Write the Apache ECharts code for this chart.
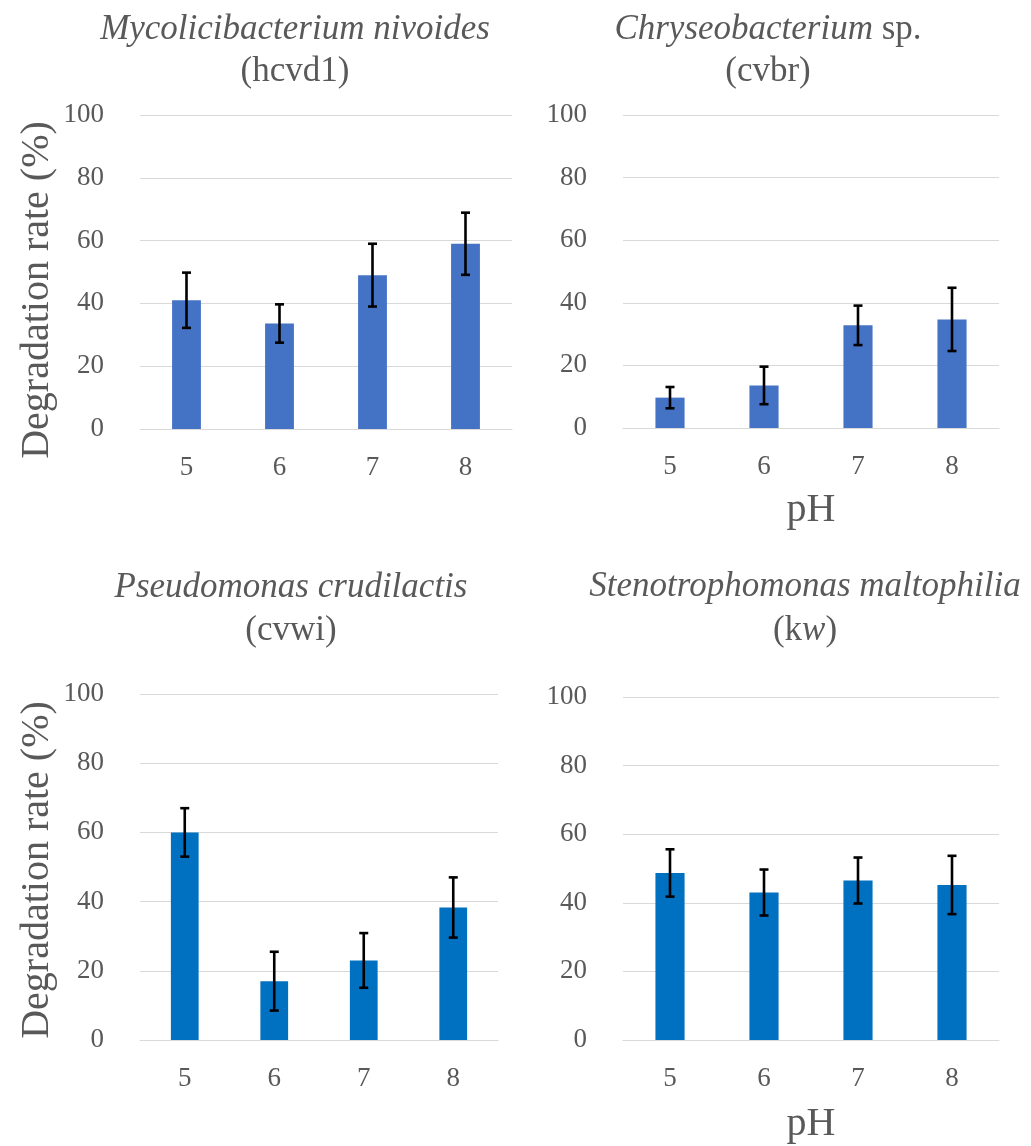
<!DOCTYPE html>
<html><head><meta charset="utf-8">
<script src="https://cdn.jsdelivr.net/npm/echarts@6/dist/echarts.min.js"></script>
<style>html,body{margin:0;padding:0;background:#fff}#c{width:1031px;height:1146px}</style>
</head><body><div id="c"></div>
<script>
const phCategories = ['5', '6', '7', '8'];
const yTicks = [0, 20, 40, 60, 80, 100];
const hcvd1Values = [41, 33.6, 49, 59];
const hcvd1Errors = [8.8, 6.1, 10, 9.9];
const cvbrValues = [9.7, 13.6, 32.8, 34.7];
const cvbrErrors = [3.4, 6, 6.3, 10.1];
const cvwiValues = [60, 17, 23, 38.3];
const cvwiErrors = [7, 8.5, 7.9, 8.7];
const kwValues = [48.7, 43, 46.5, 45.2];
const kwErrors = [6.9, 6.7, 6.7, 8.5];
const yAxisTitle = 'Degradation rate (%)';
const xAxisTitle = 'pH';

const FONT = '"Liberation Serif", "Times New Roman", serif';
const TXT = '#595959';
const GRIDC = '#d9d9d9';

const panels = [
  {vals: hcvd1Values, errs: hcvd1Errors, color: '#4472C4', grid: {left: 140, top: 115, width: 372, height: 314}, xname: ''},
  {vals: cvbrValues, errs: cvbrErrors, color: '#4472C4', grid: {left: 623, top: 115, width: 376, height: 313}, xname: xAxisTitle, gap: 62},
  {vals: cvwiValues, errs: cvwiErrors, color: '#0070C0', grid: {left: 140, top: 694, width: 358, height: 346}, xname: ''},
  {vals: kwValues, errs: kwErrors, color: '#0070C0', grid: {left: 623, top: 697, width: 376, height: 343}, xname: xAxisTitle, gap: 64}
];

function errRender(params, api) {
  const x = api.value(0);
  const lo = api.coord([x, api.value(1)]);
  const hi = api.coord([x, api.value(2)]);
  const cap = 4.5;
  const style = {stroke: '#000', lineWidth: 2.6};
  return {type: 'group', children: [
    {type: 'line', shape: {x1: hi[0], y1: hi[1], x2: lo[0], y2: lo[1]}, style: style},
    {type: 'line', shape: {x1: hi[0] - cap, y1: hi[1], x2: hi[0] + cap, y2: hi[1]}, style: style},
    {type: 'line', shape: {x1: lo[0] - cap, y1: lo[1], x2: lo[0] + cap, y2: lo[1]}, style: style}
  ]};
}

const richStyles = {
  i: {fontFamily: FONT, fontStyle: 'italic', fontWeight: 'normal', fontSize: 35, color: TXT, lineHeight: 40},
  n: {fontFamily: FONT, fontWeight: 'normal', fontSize: 35, color: TXT, lineHeight: 40}
};

const titles = [
  {text: '{i|Mycolicibacterium nivoides}', subtext: '{n|(hcvd1)}', left: 295, top: 10, itemGap: 7},
  {text: '{i|Chryseobacterium} {n|sp.}', subtext: '{n|(cvbr)}', left: 768, top: 10, itemGap: 7},
  {text: '{i|Pseudomonas crudilactis}', subtext: '{n|(cvwi)}', left: 291, top: 568, itemGap: 8},
  {text: '{i|Stenotrophomonas maltophilia}', subtext: '{n|(k}{i|w}{n|)}', left: 805, top: 567, itemGap: 9}
].map(t => Object.assign(t, {
  textAlign: 'center', padding: 0,
  textStyle: {rich: richStyles, fontFamily: FONT, fontSize: 35, fontWeight: 'normal', color: TXT},
  subtextStyle: {rich: richStyles, fontFamily: FONT, fontSize: 35, fontWeight: 'normal', color: TXT}
}));

const option = {
  backgroundColor: '#fff',
  animation: false,
  title: titles,
  grid: panels.map(p => p.grid),
  xAxis: panels.map((p, i) => ({
    type: 'category', gridIndex: i, data: phCategories,
    axisTick: {show: false},
    axisLine: {lineStyle: {color: GRIDC, width: 1}},
    axisLabel: {fontFamily: FONT, fontSize: 27, color: TXT, margin: 25},
    name: p.xname, nameLocation: 'middle', nameGap: p.gap || 0,
    nameTextStyle: {fontFamily: FONT, fontSize: 40, color: TXT}
  })),
  yAxis: panels.map((p, i) => ({
    type: 'value', gridIndex: i, min: yTicks[0], max: yTicks[yTicks.length - 1], interval: yTicks[1] - yTicks[0],
    axisLine: {show: false}, axisTick: {show: false},
    splitLine: {lineStyle: {color: GRIDC, width: 1}},
    axisLabel: {fontFamily: FONT, fontSize: 27, color: TXT, margin: 36}
  })),
  graphic: [
    {type: 'text', x: 37, y: 290, rotation: Math.PI / 2,
     style: {text: yAxisTitle, fontFamily: FONT, fontSize: 40, fill: TXT, textAlign: 'center', textVerticalAlign: 'middle'}},
    {type: 'text', x: 37, y: 870, rotation: Math.PI / 2,
     style: {text: yAxisTitle, fontFamily: FONT, fontSize: 40, fill: TXT, textAlign: 'center', textVerticalAlign: 'middle'}}
  ],
  series: []
};

panels.forEach((p, i) => {
  option.series.push({
    type: 'bar', xAxisIndex: i, yAxisIndex: i, data: p.vals,
    barWidth: '31%', itemStyle: {color: p.color}
  });
  option.series.push({
    type: 'custom', xAxisIndex: i, yAxisIndex: i, z: 10,
    renderItem: errRender,
    encode: {x: 0, y: [1, 2]},
    data: p.vals.map((v, k) => [k, v - p.errs[k], v + p.errs[k]])
  });
});

const chart = echarts.init(document.getElementById('c'));
chart.setOption(option);
</script>
</body></html>
